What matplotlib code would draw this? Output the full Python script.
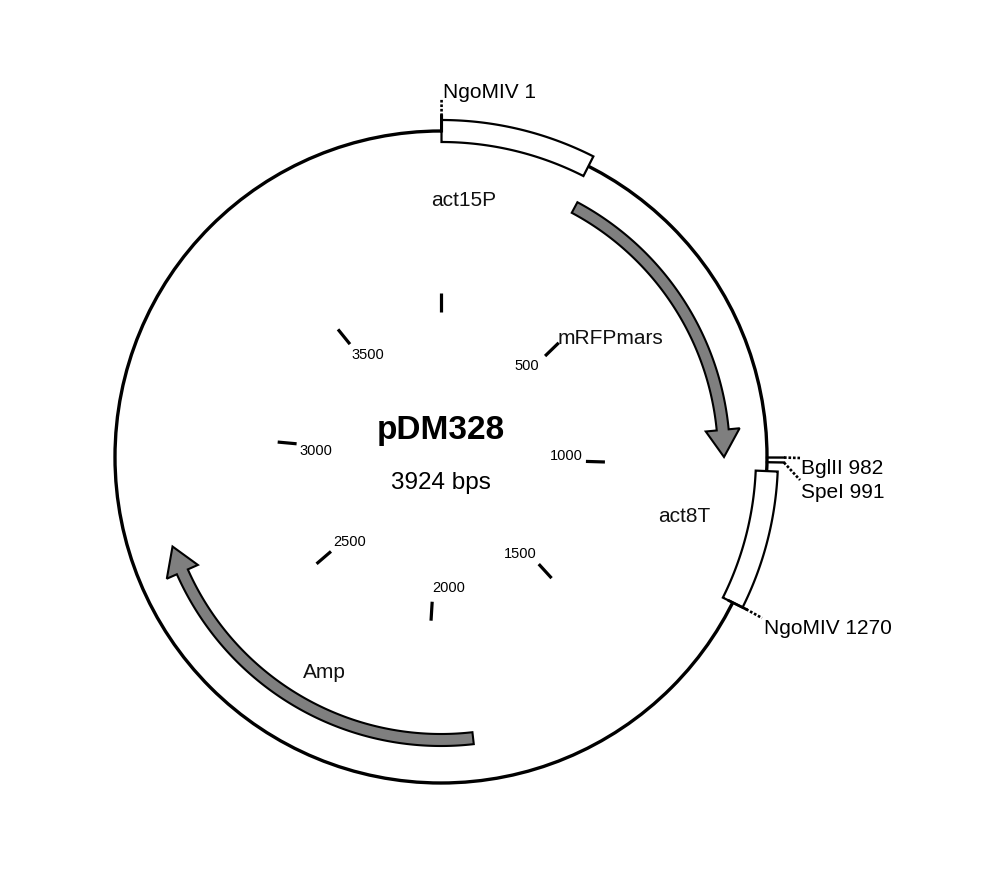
import numpy as np
import matplotlib
matplotlib.use("Agg")
import matplotlib.pyplot as plt
from matplotlib.patches import Polygon, Circle

plt.rcParams['font.family'] = ['Liberation Sans', 'DejaVu Sans']

# ---------------- data ----------------
plasmid_name = "pDM328"
plasmid_len = 3924
tick_positions = [0, 500, 1000, 1500, 2000, 2500, 3000, 3500]
tick_labels = ["", "500", "1000", "1500", "2000", "2500", "3000", "3500"]

box_names = ["act15P", "act8T"]
box_starts = [1, 1008]
box_ends = [293, 1270]

arrow_names = ["mRFPmars", "Amp"]
arrow_starts = [307, 1891]     # tail
arrow_ends = [981, 2742]       # head tip

site_names = ["NgoMIV 1", "BglII 982", "SpeI 991", "NgoMIV 1270"]
site_positions = [1, 982, 991, 1270]

# ---------------- layout ----------------
R = 326
W, H = 1000, 876
cx, cy = 441, 457


def ang(bp):
    return 2 * np.pi * bp / plasmid_len


def pol(r, bp):
    a = ang(bp)
    return r * np.sin(a), r * np.cos(a)


def px(x, y):
    """convert image pixel coords into data coords (center origin, y up)"""
    return x - cx, cy - y


fig = plt.figure(figsize=(W / 100, H / 100), dpi=100)
ax = fig.add_axes([0, 0, 1, 1])
ax.set_xlim(-cx, W - cx)
ax.set_ylim(-(H - cy), cy)
ax.set_aspect('equal')
ax.axis('off')

# main circle
ax.add_patch(Circle((0, 0), R, fill=False, lw=2.4, ec='black', zorder=2))

# ticks
tick_label_shift = {1500: 0.6, 2000: -0.5, 3500: 0.6}
tick_label_radius = {2000: 131}
for p, lab in zip(tick_positions, tick_labels):
    x1, y1 = pol(145, p)
    x2, y2 = pol(164, p)
    ax.plot([x1, x2], [y1, y2], color='black', lw=2.3, solid_capstyle='butt')
    if lab:
        d = -25 + tick_label_shift.get(p, 0) * 100
        lx, ly = pol(tick_label_radius.get(p, 125), p + d)
        ax.text(lx, ly, lab, fontsize=10.5, ha='center', va='center')

# boxes
for name, s, e in zip(box_names, box_starts, box_ends):
    bps = np.linspace(s, e, 100)
    outer = [pol(337, b) for b in bps]
    inner = [pol(315, b) for b in bps[::-1]]
    ax.add_patch(Polygon(outer + inner, closed=True, fc='white', ec='black',
                         lw=1.6, zorder=3))

# arrows
for name, s, e in zip(arrow_names, arrow_starts, arrow_ends):
    rc = 283
    hw_body = 6
    hw_head = 17
    head_len_bp = 5.5 / 360 * plasmid_len * (1 if e > s else -1)
    base = e - head_len_bp
    bps = np.linspace(s, base, 150)
    outer = [pol(rc + hw_body, b) for b in bps]
    inner = [pol(rc - hw_body, b) for b in bps[::-1]]
    head = [pol(rc + hw_head, base), pol(rc, e), pol(rc - hw_head, base)]
    pts = outer + head + inner
    ax.add_patch(Polygon(pts, closed=True, fc='#7f7f7f', ec='black', lw=1.5,
                         zorder=3))

# feature labels
feat_label_pos = {
    "act15P": px(464, 200),
    "act8T": px(684, 517),
    "mRFPmars": px(610, 338),
    "Amp": px(324, 672),
}
for name, (x, y) in feat_label_pos.items():
    ax.text(x, y, name, fontsize=15, ha='center', va='center', color='#111111')

dot = (0, (1, 0.7))

# NgoMIV 1
p = site_positions[0]
x0, y0 = pol(R, p)
x1, y1 = pol(341, p)
x2, y2 = pol(358, p)
ax.plot([x0, x1], [y0, y1], color='black', lw=2.2, zorder=4)
ax.plot([x1, x2], [y1, y2], color='black', lw=1.9, ls=dot, zorder=4)
ax.text(*px(443, 93), site_names[0], fontsize=15, ha='left', va='center')

# BglII / SpeI
for i, (ly_end, ly_lab) in zip([1, 2], [(458, 468), (480, 492)]):
    p = site_positions[i]
    x0, y0 = pol(R, p)
    x1, y1 = pol(343, p)
    xe, ye = px(800, ly_end)
    ax.plot([x0, x1], [y0, y1], color='black', lw=1.7, zorder=4)
    ax.plot([x1, xe], [y1, ye], color='black', lw=1.9, ls=dot, zorder=4)
    ax.text(*px(801, ly_lab), site_names[i], fontsize=15, ha='left', va='center')

# NgoMIV 1270
p = site_positions[3]
x0, y0 = pol(R - 4, p)
x1, y1 = pol(341, p)
xe, ye = px(762, 618)
ax.plot([x0, x1], [y0, y1], color='black', lw=2.0, zorder=4)
ax.plot([x1, xe], [y1, ye], color='black', lw=1.9, ls=dot, zorder=4)
ax.text(*px(764, 629), site_names[3], fontsize=15, ha='left', va='center')

# center text
ax.text(0, cy - 430, plasmid_name, fontsize=24, fontweight='bold',
        ha='center', va='center')
ax.text(0, cy - 483, f"{plasmid_len} bps", fontsize=17.5,
        ha='center', va='center')

fig.savefig("out.png", dpi=100)
